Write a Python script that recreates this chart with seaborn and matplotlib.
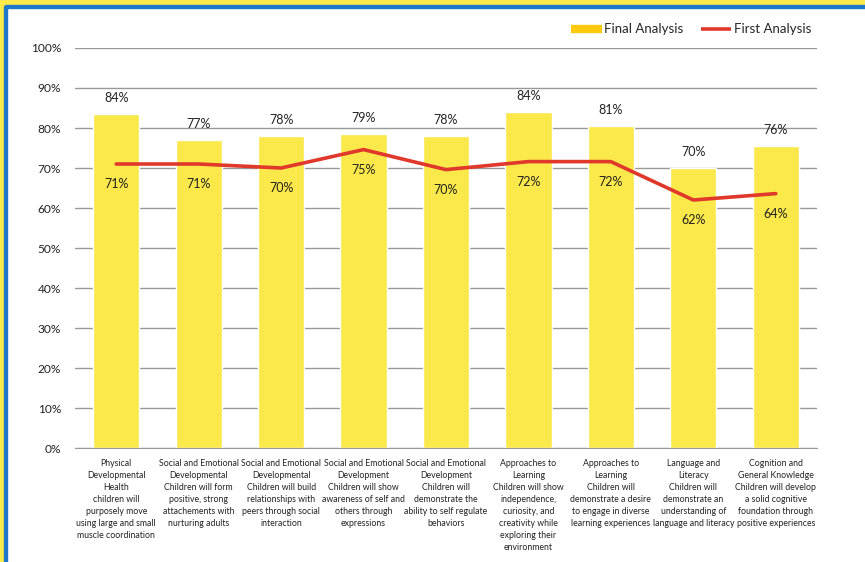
import matplotlib
matplotlib.use("Agg")
import matplotlib.pyplot as plt
import matplotlib.patches as mpatches
from matplotlib.lines import Line2D
import seaborn as sns
import pandas as pd

# chart data
categories = [
    "Physical\nDevelopmental\nHealth\nchildren will\npurposely move\nusing large and small\nmuscle coordination",
    "Social and Emotional\nDevelopmental\nChildren will form\npositive, strong\nattachements with\nnurturing adults",
    "Social and Emotional\nDevelopmental\nChildren will build\nrelationships with\npeers through social\ninteraction",
    "Social and Emotional\nDevelopment\nChildren will show\nawareness of self and\nothers through\nexpressions",
    "Social and Emotional\nDevelopment\nChildren will\ndemonstrate the\nability to self regulate\nbehaviors",
    "Approaches to\nLearning\nChildren will show\nindependence,\ncuriosity, and\ncreativity while\nexploring their\nenvironment",
    "Approaches to\nLearning\nChildren will\ndemonstrate a desire\nto engage in diverse\nlearning experiences",
    "Language and\nLiteracy\nChildren will\ndemonstrate an\nunderstanding of\nlanguage and literacy",
    "Cognition and\nGeneral Knowledge\nChildren will develop\na solid cognitive\nfoundation through\npositive experiences",
]
final_analysis = [83.6, 77.0, 78.1, 78.6, 78.0, 84.1, 80.6, 70.1, 75.6]
first_analysis = [71.0, 71.0, 70.0, 74.6, 69.6, 71.6, 71.6, 62.0, 63.6]
y_ticks = [0, 10, 20, 30, 40, 50, 60, 70, 80, 90, 100]

BAR_COLOR = "#FBE84A"
LEGEND_BAR = "#FFC90E"
LINE_COLOR = "#E0392B"

sns.set_style("white")
plt.rcParams["font.family"] = ["Lato", "DejaVu Sans"]

df = pd.DataFrame({
    "category": categories,
    "pos": range(len(categories)),
    "final": final_analysis,
    "first": first_analysis,
})

fig = plt.figure(figsize=(8.65, 5.62), dpi=100)
ax = fig.add_axes([0.0867, 0.2028, 0.8578, 0.7118])

sns.barplot(data=df, x="category", y="final", color=BAR_COLOR,
            saturation=1, width=0.56, ax=ax)
sns.lineplot(data=df, x="pos", y="first", color=LINE_COLOR, linewidth=2.6,
             ax=ax)

ax.set_xlim(-0.5, len(categories) - 0.5)
ax.set_ylim(0, 100)
ax.set_yticks(y_ticks)
ax.set_yticklabels([f"{t}%" for t in y_ticks], fontsize=8.6, color="#222222")
ax.yaxis.grid(True, color="#999999", linewidth=1)
ax.set_axisbelow(True)
ax.tick_params(axis="y", length=0, pad=10)
ax.tick_params(axis="x", length=0, pad=8)
ax.set_xticks(range(len(categories)))
ax.set_xticklabels(categories, fontsize=6.3, color="#222222",
                   linespacing=1.42, va="top")
ax.set_xlabel("")
ax.set_ylabel("")
for side in ["top", "right", "left"]:
    ax.spines[side].set_visible(False)
ax.spines["bottom"].set_color("#999999")

# value labels
for i, (v_final, v_first) in enumerate(zip(final_analysis, first_analysis)):
    ax.text(i, v_final + 2.5, f"{v_final:.0f}%", ha="center", va="bottom",
            fontsize=9, color="#222222")
    ax.text(i, v_first - 5, f"{v_first:.0f}%", ha="center", va="center",
            fontsize=9, color="#222222")

handles = [
    Line2D([0], [0], color=LEGEND_BAR, linewidth=6, solid_capstyle="butt",
           label="Final Analysis"),
    Line2D([0], [0], color=LINE_COLOR, linewidth=2.6, solid_capstyle="butt",
           label="First Analysis"),
]
ax.legend(handles=handles, loc="center right", bbox_to_anchor=(0.999, 1.047),
          ncol=2, frameon=False, fontsize=9.5, handlelength=2.3,
          handletextpad=0.2, columnspacing=1.3, borderaxespad=0)

# decorative frame along the top and left edges
fig.patches.append(mpatches.Rectangle((0, 1 - 4 / 562), 1, 4 / 562,
                                      transform=fig.transFigure,
                                      color="#FCEB4B", zorder=0))
fig.patches.append(mpatches.Rectangle((0, 1 - 8 / 562), 1, 2.5 / 562,
                                      transform=fig.transFigure,
                                      color="#1F78C8", zorder=0))
fig.patches.append(mpatches.Rectangle((0, 0), 4 / 865, 1,
                                      transform=fig.transFigure,
                                      color="#FCEB4B", zorder=0))
fig.patches.append(mpatches.Rectangle((4 / 865, 0), 2.5 / 865, 1 - 5.5 / 562,
                                      transform=fig.transFigure,
                                      color="#1F78C8", zorder=0))

fig.savefig("out.png", dpi=100)
